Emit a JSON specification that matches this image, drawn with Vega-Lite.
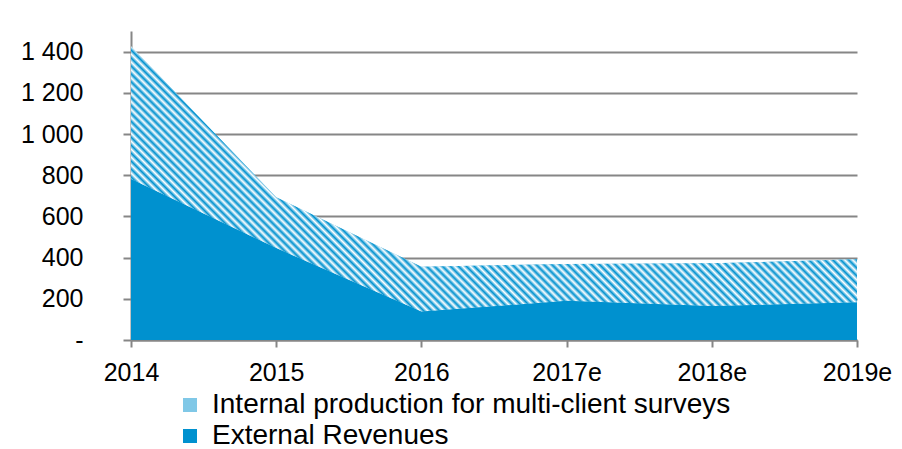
{
  "$schema": "https://vega.github.io/schema/vega-lite/v6.json",
  "autosize": "none",
  "width": 726,
  "height": 309,
  "padding": {"left": 131, "top": 31, "right": 45, "bottom": 109},
  "background": "white",
  "config": {"view": {"stroke": null}, "font": "Liberation Sans"},
  "data": {
    "values": [
      {"year": "2014", "series": "External Revenues", "value": 781},
      {"year": "2015", "series": "External Revenues", "value": 446},
      {"year": "2016", "series": "External Revenues", "value": 138},
      {"year": "2017e", "series": "External Revenues", "value": 190},
      {"year": "2018e", "series": "External Revenues", "value": 165},
      {"year": "2019e", "series": "External Revenues", "value": 183},
      {"year": "2014", "series": "Internal production for multi-client surveys", "value": 645},
      {"year": "2015", "series": "Internal production for multi-client surveys", "value": 247},
      {"year": "2016", "series": "Internal production for multi-client surveys", "value": 218},
      {"year": "2017e", "series": "Internal production for multi-client surveys", "value": 179},
      {"year": "2018e", "series": "Internal production for multi-client surveys", "value": 207},
      {"year": "2019e", "series": "Internal production for multi-client surveys", "value": 209}
    ]
  },
  "encoding": {
    "x": {
      "field": "year", "type": "ordinal", "sort": null,
      "scale": {"type": "point", "padding": 0},
      "axis": {"title": null, "labelAngle": 0, "labelFontSize": 25, "labelColor": "black", "labelFont": "Liberation Sans",
               "tickSize": 7, "tickColor": "#868686", "tickWidth": 2, "domainColor": "#868686", "domainWidth": 2,
               "labelPadding": 13, "grid": false, "labelOverlap": false, "labelFlush": false}
    },
    "y": {
      "field": "value", "type": "quantitative", "stack": "zero",
      "scale": {"domain": [0, 1500], "nice": false},
      "axis": {"title": null, "values": [0, 200, 400, 600, 800, 1000, 1200, 1400],
               "labelExpr": "datum.value === 0 ? '-\u00a0\u00a0' : replace(format(datum.value, ','), ',', ' ')",
               "labelFontSize": 25, "labelColor": "black", "labelFont": "Liberation Sans",
               "tickSize": 8, "tickColor": "#868686", "tickWidth": 2, "domainColor": "#868686", "domainWidth": 2,
               "grid": true, "gridColor": "#868686", "gridWidth": 2, "labelPadding": 40}
    },
    "order": {"field": "series", "sort": "ascending"}
  },
  "layer": [
    {
      "mark": {"type": "area", "interpolate": "linear"},
      "encoding": {
        "color": {
          "field": "series", "type": "nominal",
          "scale": {"domain": ["Internal production for multi-client surveys", "External Revenues"], "range": ["#80c8e7", "#0091cf"]},
          "legend": {"title": null, "orient": "none", "legendX": 45, "legendY": 360, "direction": "vertical",
                     "symbolType": "square", "symbolSize": 196, "symbolStrokeWidth": 0, "symbolOpacity": 1,
                     "labelFontSize": 28, "labelFont": "Liberation Sans", "labelColor": "black",
                     "labelOffset": 8, "rowPadding": 3, "labelLimit": 0}
        }
      }
    },
    {
      "mark": {"type": "area", "interpolate": "linear"},
      "encoding": {
        "detail": {"field": "series", "type": "nominal"},
        "color": {
          "condition": {"test": "datum.series === 'External Revenues'", "value": "#0091cf"},
          "value": {"gradient": "linear", "x1": 0, "y1": 1, "x2": 1.2046, "y2": 0.5596, "stops": [
            {"offset":0,"color":"#0091cf"},{"offset":0.004,"color":"#fff"},{"offset":0.008,"color":"#0091cf"},{"offset":0.012,"color":"#fff"},{"offset":0.016,"color":"#0091cf"},{"offset":0.02,"color":"#fff"},{"offset":0.024,"color":"#0091cf"},{"offset":0.028,"color":"#fff"},{"offset":0.032,"color":"#0091cf"},{"offset":0.036,"color":"#fff"},{"offset":0.04,"color":"#0091cf"},{"offset":0.044,"color":"#fff"},{"offset":0.048,"color":"#0091cf"},{"offset":0.052,"color":"#fff"},{"offset":0.056,"color":"#0091cf"},{"offset":0.06,"color":"#fff"},{"offset":0.064,"color":"#0091cf"},{"offset":0.068,"color":"#fff"},{"offset":0.072,"color":"#0091cf"},{"offset":0.076,"color":"#fff"},{"offset":0.08,"color":"#0091cf"},{"offset":0.084,"color":"#fff"},{"offset":0.088,"color":"#0091cf"},{"offset":0.092,"color":"#fff"},{"offset":0.096,"color":"#0091cf"},
            {"offset":0.1,"color":"#fff"},{"offset":0.104,"color":"#0091cf"},{"offset":0.108,"color":"#fff"},{"offset":0.112,"color":"#0091cf"},{"offset":0.116,"color":"#fff"},{"offset":0.12,"color":"#0091cf"},{"offset":0.124,"color":"#fff"},{"offset":0.128,"color":"#0091cf"},{"offset":0.132,"color":"#fff"},{"offset":0.136,"color":"#0091cf"},{"offset":0.14,"color":"#fff"},{"offset":0.144,"color":"#0091cf"},{"offset":0.148,"color":"#fff"},{"offset":0.152,"color":"#0091cf"},{"offset":0.156,"color":"#fff"},{"offset":0.16,"color":"#0091cf"},{"offset":0.164,"color":"#fff"},{"offset":0.168,"color":"#0091cf"},{"offset":0.172,"color":"#fff"},{"offset":0.176,"color":"#0091cf"},{"offset":0.18,"color":"#fff"},{"offset":0.184,"color":"#0091cf"},{"offset":0.188,"color":"#fff"},{"offset":0.192,"color":"#0091cf"},{"offset":0.196,"color":"#fff"},
            {"offset":0.2,"color":"#0091cf"},{"offset":0.204,"color":"#fff"},{"offset":0.208,"color":"#0091cf"},{"offset":0.212,"color":"#fff"},{"offset":0.216,"color":"#0091cf"},{"offset":0.22,"color":"#fff"},{"offset":0.224,"color":"#0091cf"},{"offset":0.228,"color":"#fff"},{"offset":0.232,"color":"#0091cf"},{"offset":0.236,"color":"#fff"},{"offset":0.24,"color":"#0091cf"},{"offset":0.244,"color":"#fff"},{"offset":0.248,"color":"#0091cf"},{"offset":0.252,"color":"#fff"},{"offset":0.256,"color":"#0091cf"},{"offset":0.26,"color":"#fff"},{"offset":0.264,"color":"#0091cf"},{"offset":0.268,"color":"#fff"},{"offset":0.272,"color":"#0091cf"},{"offset":0.276,"color":"#fff"},{"offset":0.28,"color":"#0091cf"},{"offset":0.284,"color":"#fff"},{"offset":0.288,"color":"#0091cf"},{"offset":0.292,"color":"#fff"},{"offset":0.296,"color":"#0091cf"},
            {"offset":0.3,"color":"#fff"},{"offset":0.304,"color":"#0091cf"},{"offset":0.308,"color":"#fff"},{"offset":0.312,"color":"#0091cf"},{"offset":0.316,"color":"#fff"},{"offset":0.32,"color":"#0091cf"},{"offset":0.324,"color":"#fff"},{"offset":0.328,"color":"#0091cf"},{"offset":0.332,"color":"#fff"},{"offset":0.336,"color":"#0091cf"},{"offset":0.34,"color":"#fff"},{"offset":0.344,"color":"#0091cf"},{"offset":0.348,"color":"#fff"},{"offset":0.352,"color":"#0091cf"},{"offset":0.356,"color":"#fff"},{"offset":0.36,"color":"#0091cf"},{"offset":0.364,"color":"#fff"},{"offset":0.368,"color":"#0091cf"},{"offset":0.372,"color":"#fff"},{"offset":0.376,"color":"#0091cf"},{"offset":0.38,"color":"#fff"},{"offset":0.384,"color":"#0091cf"},{"offset":0.388,"color":"#fff"},{"offset":0.392,"color":"#0091cf"},{"offset":0.396,"color":"#fff"},
            {"offset":0.4,"color":"#0091cf"},{"offset":0.404,"color":"#fff"},{"offset":0.408,"color":"#0091cf"},{"offset":0.412,"color":"#fff"},{"offset":0.416,"color":"#0091cf"},{"offset":0.42,"color":"#fff"},{"offset":0.424,"color":"#0091cf"},{"offset":0.428,"color":"#fff"},{"offset":0.432,"color":"#0091cf"},{"offset":0.436,"color":"#fff"},{"offset":0.44,"color":"#0091cf"},{"offset":0.444,"color":"#fff"},{"offset":0.448,"color":"#0091cf"},{"offset":0.452,"color":"#fff"},{"offset":0.456,"color":"#0091cf"},{"offset":0.46,"color":"#fff"},{"offset":0.464,"color":"#0091cf"},{"offset":0.468,"color":"#fff"},{"offset":0.472,"color":"#0091cf"},{"offset":0.476,"color":"#fff"},{"offset":0.48,"color":"#0091cf"},{"offset":0.484,"color":"#fff"},{"offset":0.488,"color":"#0091cf"},{"offset":0.492,"color":"#fff"},{"offset":0.496,"color":"#0091cf"},
            {"offset":0.5,"color":"#fff"},{"offset":0.504,"color":"#0091cf"},{"offset":0.508,"color":"#fff"},{"offset":0.512,"color":"#0091cf"},{"offset":0.516,"color":"#fff"},{"offset":0.52,"color":"#0091cf"},{"offset":0.524,"color":"#fff"},{"offset":0.528,"color":"#0091cf"},{"offset":0.532,"color":"#fff"},{"offset":0.536,"color":"#0091cf"},{"offset":0.54,"color":"#fff"},{"offset":0.544,"color":"#0091cf"},{"offset":0.548,"color":"#fff"},{"offset":0.552,"color":"#0091cf"},{"offset":0.556,"color":"#fff"},{"offset":0.56,"color":"#0091cf"},{"offset":0.564,"color":"#fff"},{"offset":0.568,"color":"#0091cf"},{"offset":0.572,"color":"#fff"},{"offset":0.576,"color":"#0091cf"},{"offset":0.58,"color":"#fff"},{"offset":0.584,"color":"#0091cf"},{"offset":0.588,"color":"#fff"},{"offset":0.592,"color":"#0091cf"},{"offset":0.596,"color":"#fff"},
            {"offset":0.6,"color":"#0091cf"},{"offset":0.604,"color":"#fff"},{"offset":0.608,"color":"#0091cf"},{"offset":0.612,"color":"#fff"},{"offset":0.616,"color":"#0091cf"},{"offset":0.62,"color":"#fff"},{"offset":0.624,"color":"#0091cf"},{"offset":0.628,"color":"#fff"},{"offset":0.632,"color":"#0091cf"},{"offset":0.636,"color":"#fff"},{"offset":0.64,"color":"#0091cf"},{"offset":0.644,"color":"#fff"},{"offset":0.648,"color":"#0091cf"},{"offset":0.652,"color":"#fff"},{"offset":0.656,"color":"#0091cf"},{"offset":0.66,"color":"#fff"},{"offset":0.664,"color":"#0091cf"},{"offset":0.668,"color":"#fff"},{"offset":0.672,"color":"#0091cf"},{"offset":0.676,"color":"#fff"},{"offset":0.68,"color":"#0091cf"},{"offset":0.684,"color":"#fff"},{"offset":0.688,"color":"#0091cf"},{"offset":0.692,"color":"#fff"},{"offset":0.696,"color":"#0091cf"},
            {"offset":0.7,"color":"#fff"},{"offset":0.704,"color":"#0091cf"},{"offset":0.708,"color":"#fff"},{"offset":0.712,"color":"#0091cf"},{"offset":0.716,"color":"#fff"},{"offset":0.72,"color":"#0091cf"},{"offset":0.724,"color":"#fff"},{"offset":0.728,"color":"#0091cf"},{"offset":0.732,"color":"#fff"},{"offset":0.736,"color":"#0091cf"},{"offset":0.74,"color":"#fff"},{"offset":0.744,"color":"#0091cf"},{"offset":0.748,"color":"#fff"},{"offset":0.752,"color":"#0091cf"},{"offset":0.756,"color":"#fff"},{"offset":0.76,"color":"#0091cf"},{"offset":0.764,"color":"#fff"},{"offset":0.768,"color":"#0091cf"},{"offset":0.772,"color":"#fff"},{"offset":0.776,"color":"#0091cf"},{"offset":0.78,"color":"#fff"},{"offset":0.784,"color":"#0091cf"},{"offset":0.788,"color":"#fff"},{"offset":0.792,"color":"#0091cf"},{"offset":0.796,"color":"#fff"},
            {"offset":0.8,"color":"#0091cf"},{"offset":0.804,"color":"#fff"},{"offset":0.808,"color":"#0091cf"},{"offset":0.812,"color":"#fff"},{"offset":0.816,"color":"#0091cf"},{"offset":0.82,"color":"#fff"},{"offset":0.824,"color":"#0091cf"},{"offset":0.828,"color":"#fff"},{"offset":0.832,"color":"#0091cf"},{"offset":0.836,"color":"#fff"},{"offset":0.84,"color":"#0091cf"},{"offset":0.844,"color":"#fff"},{"offset":0.848,"color":"#0091cf"},{"offset":0.852,"color":"#fff"},{"offset":0.856,"color":"#0091cf"},{"offset":0.86,"color":"#fff"},{"offset":0.864,"color":"#0091cf"},{"offset":0.868,"color":"#fff"},{"offset":0.872,"color":"#0091cf"},{"offset":0.876,"color":"#fff"},{"offset":0.88,"color":"#0091cf"},{"offset":0.884,"color":"#fff"},{"offset":0.888,"color":"#0091cf"},{"offset":0.892,"color":"#fff"},{"offset":0.896,"color":"#0091cf"},
            {"offset":0.9,"color":"#fff"},{"offset":0.904,"color":"#0091cf"},{"offset":0.908,"color":"#fff"},{"offset":0.912,"color":"#0091cf"},{"offset":0.916,"color":"#fff"},{"offset":0.92,"color":"#0091cf"},{"offset":0.924,"color":"#fff"},{"offset":0.928,"color":"#0091cf"},{"offset":0.932,"color":"#fff"},{"offset":0.936,"color":"#0091cf"},{"offset":0.94,"color":"#fff"},{"offset":0.944,"color":"#0091cf"},{"offset":0.948,"color":"#fff"},{"offset":0.952,"color":"#0091cf"},{"offset":0.956,"color":"#fff"},{"offset":0.96,"color":"#0091cf"},{"offset":0.964,"color":"#fff"},{"offset":0.968,"color":"#0091cf"},{"offset":0.972,"color":"#fff"},{"offset":0.976,"color":"#0091cf"},{"offset":0.98,"color":"#fff"},{"offset":0.984,"color":"#0091cf"},{"offset":0.988,"color":"#fff"},{"offset":0.992,"color":"#0091cf"},{"offset":0.996,"color":"#fff"},
            {"offset":1,"color":"#0091cf"}
          ]}
        }
      }
    }
  ]
}
